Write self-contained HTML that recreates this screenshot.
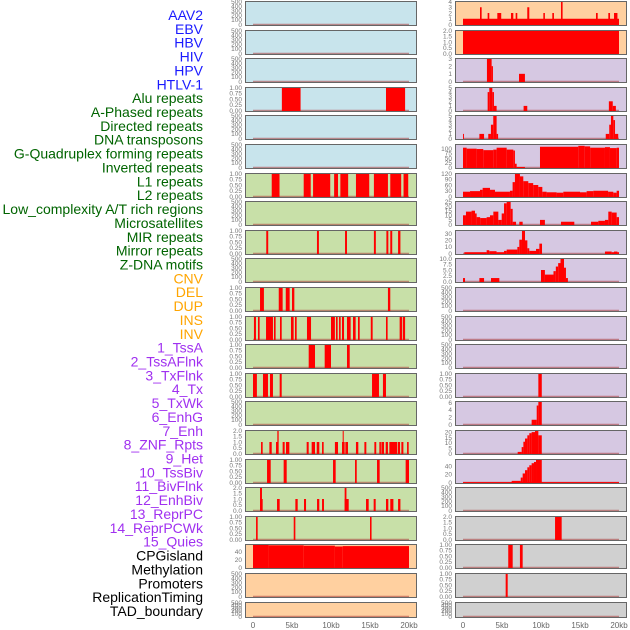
<!DOCTYPE html>
<html><head><meta charset="utf-8">
<style>
html,body{margin:0;padding:0;background:#fff;}
svg{display:block;font-family:"Liberation Sans",sans-serif;}
</style></head>
<body>
<svg id="chart" width="630" height="630" viewBox="0 0 630 630" xmlns="http://www.w3.org/2000/svg"></svg>
<script>
// ---- track labels ----
const trackLabels = ["AAV2","EBV","HBV","HIV","HPV","HTLV-1","Alu repeats","A-Phased repeats","Directed repeats","DNA transposons","G-Quadruplex forming repeats","Inverted repeats","L1 repeats","L2 repeats","Low_complexity A/T rich regions","Microsatellites","MIR repeats","Mirror repeats","Z-DNA motifs","CNV","DEL","DUP","INS","INV","1_TssA","2_TssAFlnk","3_TxFlnk","4_Tx","5_TxWk","6_EnhG","7_Enh","8_ZNF_Rpts","9_Het","10_TssBiv","11_BivFlnk","12_EnhBiv","13_ReprPC","14_ReprPCWk","15_Quies","CPGisland","Methylation","Promoters","ReplicationTiming","TAD_boundary"];
const labelGroupSizes = [6,13,5,15,5];
const labelGroupColors = ["#1a1aff","#006400","#ffa500","#a030f0","#000000"];

// ---- x axis ----
const xTicksKb = [0,5,10,15,20];
const xTickLabels = ["0","5kb","10kb","15kb","20kb"];

// ---- tick sets ----
const tEmpty = [0,100,200,300,400,500];
const tEmptyLab = ["0","100","200","300","400","500"];
const tOne = [0,0.25,0.5,0.75,1];
const tOneLab = ["0.00","0.25","0.50","0.75","1.00"];
const tTwo = [0,0.5,1,1.5,2];
const tTwoLab = ["0.0","0.5","1.0","1.5","2.0"];

// ---- left column data: [startKb, endKb, value] ----
const leftAlu = [[3.7,6.1,1],[17.05,19.5,1]];
const leftL1 = [[2.4,3.4,1],[6.5,7.4,1],[7.7,9.9,1],[10.4,10.9,1],[11.2,12.2,1],[13.2,14.9,1],[15.5,17.3,1],[17.6,19.0,1],[19.3,19.9,1]];
const leftMIR = [[1.7,1.95,1],[8.2,8.45,1],[11.8,12.05,1],[15.5,15.75,1],[17.1,17.35,1],[17.6,17.85,1],[18.6,18.9,1]];
const leftZDNA = [[0.9,1.4,1],[3.3,3.8,1],[4.2,4.7,1],[5.0,5.3,1],[17.3,17.6,1]];
const leftDEL = [[0.12,0.38,1],[0.64,0.85,1],[1.67,2.56,1],[2.69,2.9,1],[3.46,3.68,1],[4.87,5.21,1],[5.38,5.6,1],[6.92,7.44,1],[10.0,10.5,1],[10.64,10.85,1],[11.03,11.24,1],[11.41,11.67,1],[12.05,12.52,1],[12.82,13.16,1],[13.46,13.68,1],[15.1,15.34,1],[17.05,17.26,1],[18.8,19.1,1],[19.2,19.5,1]];
const leftDUP = [[7.14,7.95,1],[9.19,10.0,1],[12.05,12.4,1]];
const leftINS = [[0,0.5,1],[1.28,1.92,1],[2.18,2.56,1],[3.42,3.68,1],[15.26,16.15,1],[16.66,17.05,1]];
const leftTx = [[1.03,1.24,1],[2.1,2.4,1],[2.95,3.25,1],[3.12,3.29,2],[3.8,4.06,1],[4.23,4.66,1],[6.88,7.14,1],[7.52,7.95,1],[8.17,8.5,1],[8.85,9.06,1],[10.5,10.9,1],[11.41,11.75,1],[11.5,11.63,2],[11.84,12.18,1],[13.2,13.5,1],[14.28,14.53,1],[15.56,15.8,1],[16.2,16.4,1],[16.46,16.8,1],[17.01,17.3,1],[17.48,18.5,1],[18.59,18.85,1],[19.02,19.28,1],[19.75,19.96,1]];
const leftTxWk = [[1.8,2.27,1],[3.93,4.32,1],[10.26,10.6,1],[13.08,13.3,1],[15.9,16.24,1],[19.57,20.0,1]];
const leftEnhG = [[0.9,1.24,1],[0.9,1.15,2],[3.08,3.42,1],[5.43,5.73,1],[6.54,6.8,1],[8.21,8.5,1],[8.85,9.1,1],[11.75,12.27,1],[11.75,11.98,2],[14.49,14.83,1],[15.47,15.73,1],[17.05,17.35,1],[17.6,18.0,1],[18.6,18.9,1]];
const leftEnh = [[0.39,0.6,1],[5.22,5.43,1],[15.0,15.2,1]];
const leftCpG = [[0,2,57],[2,6.5,56],[6.5,10.5,55],[10.5,11.5,53],[11.5,20,54]];

// ---- right column data ----
const rightAAV2 = [[0,20,1],[2.18,2.39,3],[3.16,3.37,2],[4.4,4.9,2],[6.15,6.45,2],[6.75,6.96,2],[8.24,8.5,3],[10.3,10.5,2],[11.45,11.66,2],[12.56,12.77,4],[17.05,17.27,2],[18.63,18.85,2],[19.36,19.8,2]];
const rightEBV = [[0,20,2]];
const rightHBV = [[3.07,3.67,3],[3.67,3.84,2],[7.18,7.94,1]];
const rightHIV = [[3.16,3.37,4],[3.37,3.76,5],[3.76,3.97,4],[3.97,4.31,1],[7.77,8.24,1],[18.7,19.2,2],[19.2,19.6,1]];
const rightHPV = [[0,0.12,1],[2.1,2.7,1],[3.24,3.58,1],[3.58,3.88,3],[3.88,4.31,5],[4.31,4.5,1],[18.3,18.75,1],[18.75,18.97,3],[18.97,19.27,5],[19.27,19.49,4],[19.49,19.9,1]];
const rightHTLV = [[0,0.47,105],[0.47,1.75,100],[1.75,2.6,98],[2.6,3.88,92],[3.88,4.31,95],[4.31,5.6,105],[5.6,6.45,95],[6.45,6.66,90],[6.66,6.88,20],[6.88,7.94,3],[9.87,14.78,110],[14.78,15.6,115],[15.6,16.3,112],[16.3,18.2,105],[18.2,18.84,108],[18.84,19.7,103],[19.7,20.0,105]];
const rightAlu = [[0,0.9,25],[0.9,2.18,28],[2.18,2.52,35],[2.52,3.46,45],[3.46,4.1,35],[4.1,6.02,25],[6.02,6.36,30],[6.36,6.66,75],[6.66,7.3,120],[7.3,7.73,105],[7.73,8.37,80],[8.37,9.0,70],[9.0,9.65,60],[9.65,10.17,50],[10.17,10.72,25],[10.72,12.0,22],[12.0,12.86,20],[12.86,15.0,25],[15.0,15.85,22],[15.85,16.7,28],[16.7,18.6,30],[18.6,19.27,25],[19.27,19.7,20],[19.7,20.0,30]];
const rightAPhased = [[0,0.38,10],[0.38,1.1,14],[1.1,1.54,15],[1.54,1.75,12],[1.75,2.2,8],[2.2,3.03,7],[3.03,3.46,8],[3.46,3.89,10],[3.89,4.53,14],[4.53,4.96,5],[4.96,5.26,12],[5.26,5.6,23],[5.6,6.11,25],[6.11,6.37,17],[6.37,6.8,3],[7.22,7.65,3],[9.87,10.5,5],[12.56,14.27,3],[16.41,17.35,3],[17.35,18.2,4],[18.2,18.63,5],[18.63,19.06,14],[19.06,19.7,13],[19.7,20.0,8]];
const rightDirected = [[0.17,3.03,2],[3.03,3.37,5],[3.37,4.3,3.5],[4.3,5.26,2],[5.26,5.6,4],[5.6,6.97,6],[6.97,7.22,10],[7.22,7.56,21],[7.56,7.95,35],[7.95,8.25,20],[8.25,8.5,8],[8.5,9.36,4],[9.36,9.79,7],[9.79,10.13,15],[18.2,19.06,3],[19.06,19.36,2],[19.36,19.8,3],[19.8,20.0,2]];
const rightDNA = [[0,0.26,1.5],[2.1,2.7,1.5],[3.59,4.66,1.5],[10.0,10.5,5],[10.5,11.6,3],[11.6,11.9,4.5],[11.9,12.2,6.5],[12.2,12.5,8],[12.5,12.95,10],[12.95,13.2,6],[13.2,13.45,1.5]];
const rightL1 = [[9.66,10.1,1]];
const rightL2 = [[8.8,9.45,1.3],[9.45,9.66,5.2],[9.66,10.1,6.3]];
const rightLowC = [[7.01,7.52,1.5],[7.52,7.74,6],[7.74,7.95,11],[7.95,8.25,14],[8.25,8.5,17],[8.5,8.8,19],[8.8,9.23,20],[9.23,9.66,21],[9.66,10.1,17]];
const rightMicro = [[0,20,1],[6.24,7.4,4],[7.4,7.65,12],[7.65,7.95,22],[7.95,8.25,30],[8.25,8.5,37],[8.5,8.8,42],[8.8,9.1,47],[9.1,9.36,50],[9.36,10.1,55]];
const rightTSS = [[11.8,12.65,2]];
const rightReprPC = [[5.8,6.37,1],[7.3,7.65,1]];
const rightReprPCWk = [[5.47,5.73,1]];

// ---- panel layout (row index, column, background, data, ticks) ----
const BLUE="#c8e4ec", GREEN="#c8e0a8", ORANGE="#ffd0a0", PURPLE="#d6c8e2", GRAY="#d0d0d0";
const leftPanels = [
 [BLUE,[],tEmpty,tEmptyLab,500],[BLUE,[],tEmpty,tEmptyLab,500],[BLUE,[],tEmpty,tEmptyLab,500],
 [BLUE,leftAlu,tOne,tOneLab,1],[BLUE,[],tEmpty,tEmptyLab,500],[BLUE,[],tEmpty,tEmptyLab,500],
 [GREEN,leftL1,tOne,tOneLab,1],[GREEN,[],tEmpty,tEmptyLab,500],[GREEN,leftMIR,tOne,tOneLab,1],
 [GREEN,[],tEmpty,tEmptyLab,500],[GREEN,leftZDNA,tOne,tOneLab,1],[GREEN,leftDEL,tOne,tOneLab,1],
 [GREEN,leftDUP,tOne,tOneLab,1],[GREEN,leftINS,tOne,tOneLab,1],[GREEN,[],tEmpty,tEmptyLab,500],
 [GREEN,leftTx,tTwo,tTwoLab,2],[GREEN,leftTxWk,tOne,tOneLab,1],[GREEN,leftEnhG,tTwo,tTwoLab,2],
 [GREEN,leftEnh,tOne,tOneLab,1],[ORANGE,leftCpG,[0,20,40],["0","20","40"],58],
 [ORANGE,[],tEmpty,tEmptyLab,500],[ORANGE,[],tEmpty,tEmptyLab,500]
];
const rightPanels = [
 [ORANGE,rightAAV2,[0,1,2,3,4],["0","1","2","3","4"],4],
 [ORANGE,rightEBV,tTwo,tTwoLab,2],
 [PURPLE,rightHBV,[0,1,2,3],["0","1","2","3"],3],
 [PURPLE,rightHIV,[0,1,2,3,4,5],["0","1","2","3","4","5"],5],
 [PURPLE,rightHPV,[0,1,2,3,4,5],["0","1","2","3","4","5"],5],
 [PURPLE,rightHTLV,[0,25,50,75,100],["0","25","50","75","100"],122],
 [PURPLE,rightAlu,[0,30,60,90,120],["0","30","60","90","120"],120],
 [PURPLE,rightAPhased,[0,5,10,15,20,25],["0","5","10","15","20","25"],25],
 [PURPLE,rightDirected,[0,10,20,30],["0","10","20","30"],35],
 [PURPLE,rightDNA,[0,2.5,5,7.5,10],["0.0","2.5","5.0","7.5","10.0"],10],
 [PURPLE,[],tEmpty,tEmptyLab,500],[PURPLE,[],tEmpty,tEmptyLab,500],[PURPLE,[],tEmpty,tEmptyLab,500],
 [PURPLE,rightL1,tOne,tOneLab,1],
 [PURPLE,rightL2,[0,2,4,6],["0","2","4","6"],6.3],
 [PURPLE,rightLowC,[0,5,10,15,20],["0","5","10","15","20"],21.5],
 [PURPLE,rightMicro,[0,20,40],["0","20","40"],56],
 [GRAY,[],tEmpty,tEmptyLab,500],
 [GRAY,rightTSS,tTwo,tTwoLab,2],
 [GRAY,rightReprPC,tOne,tOneLab,1],
 [GRAY,rightReprPCWk,tOne,tOneLab,1],
 [GRAY,[],tEmpty,tEmptyLab,500]
];

const NS="http://www.w3.org/2000/svg";
const svg=document.getElementById('chart');
function mk(tag,attrs,parent){const e=document.createElementNS(NS,tag);for(const k in attrs)e.setAttribute(k,attrs[k]);(parent||svg).appendChild(e);return e;}

// labels
let li=0;
labelGroupSizes.forEach((n,g)=>{
  for(let i=0;i<n;i++){
    const t=mk('text',{x:203,y:15+li*13.86+5,'text-anchor':'end','font-size':14,fill:labelGroupColors[g]});
    t.textContent=trackLabels[li];
    
    
    li++;
  }
});

const PITCH=28.6, PW=172, KB=7.8;
function panelTop(r){return Math.round(r*PITCH)+1;}
function drawColumn(panels,px0,zeroX,colName){
  const xs=kb=>zeroX+kb*KB;
  panels.forEach((p,r)=>{
    const [bg,data,ticks,tickLab,ymax]=p;
    const top=panelTop(r), h=(r===21)?16:25;
    const g=mk('g',{});
    
    
    mk('rect',{x:px0,y:top,width:PW,height:h,fill:bg},g);
    const y0=top+h-1.5, ys=v=>y0-(v/ymax)*(h-2);
    // baseline
    const bl=mk('line',{x1:xs(0),x2:xs(20),y1:y0,y2:y0,stroke:'rgba(170,60,60,0.55)','stroke-width':1.6},g);
    
    
    data.forEach(d=>{
      const b=mk('rect',{x:xs(d[0]),y:ys(d[2]),width:Math.max(0.8,xs(d[1])-xs(d[0])),height:y0-ys(d[2])+0.5,fill:'#ff0000'},g);
      
      
    });
    mk('rect',{x:px0+0.5,y:top+0.5,width:PW-1,height:h-1,fill:'none',stroke:'#666','stroke-width':1},g);
    ticks.forEach((tv,i)=>{
      const t=mk('text',{x:px0-3,y:ys(tv)+2.3,'text-anchor':'end','font-size':6.5,fill:'#777'},g);
      t.textContent=tickLab[i];
      
      
    });
  });
  xTicksKb.forEach((k,i)=>{
    const t=mk('text',{x:xs(k),y:628,'text-anchor':'middle','font-size':8,fill:'#666'});
    t.textContent=xTickLabels[i];
    
    
  });
}
drawColumn(leftPanels,245,253,'left');
drawColumn(rightPanels,455,463,'right');
</script>
</body></html>
